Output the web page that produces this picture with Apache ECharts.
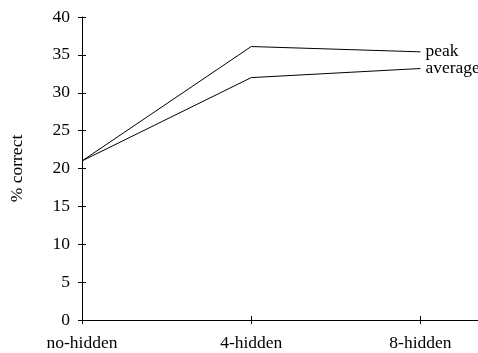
<!DOCTYPE html>
<html>
<head>
<meta charset="utf-8">
<script src="https://cdn.jsdelivr.net/npm/echarts@6/dist/echarts.min.js"></script>
<style>
  html, body { margin: 0; padding: 0; background: #fff; }
  #chart { width: 478px; height: 353px; }
</style>
</head>
<body>
<div id="chart"></div>
<script>
// Network configurations along the x axis
const categories = ['no-hidden', '4-hidden', '8-hidden'];
// Percentage correct for each configuration
const peakValues = [21, 36.1, 35.4];
const averageValues = [21, 32.0, 33.2];
// Y axis tick values
const yTicks = [0, 5, 10, 15, 20, 25, 30, 35, 40];

const FONT = "'Liberation Serif', 'Times New Roman', serif";
const FS = 17.5;
const tickIdx = categories.map((_, i) => i);

function pairs(values) {
  return values.map((v, i) => [i, v]);
}

const chart = echarts.init(document.getElementById('chart'), null, { renderer: 'canvas' });

const lineSeries = (name, values) => ({
  name: name,
  type: 'line',
  data: pairs(values),
  symbol: 'none',
  lineStyle: { color: '#000', width: 1 },
  endLabel: {
    show: true,
    formatter: name,
    distance: 5,
    color: '#000',
    fontFamily: FONT,
    fontSize: FS
  },
  animation: false
});

chart.setOption({
  animation: false,
  grid: { left: 80, right: 0, top: 17, bottom: 33 },
  xAxis: [{
    type: 'value',
    min: 0,
    max: 2.34,
    interval: 1,
    splitLine: { show: false },
    axisLine: { lineStyle: { color: '#000', width: 1 } },
    axisTick: { show: true, customValues: tickIdx, length: 4, inside: false, lineStyle: { color: '#000' } },
    axisLabel: {
      customValues: tickIdx,
      formatter: v => categories[Math.round(v)] || '',
      color: '#000', fontFamily: FONT, fontSize: FS, margin: 14
    }
  }, {
    type: 'value',
    position: 'bottom',
    min: 0,
    max: 2.34,
    interval: 1,
    splitLine: { show: false },
    axisLine: { show: false },
    axisTick: { show: true, customValues: tickIdx, length: 4, inside: true, lineStyle: { color: '#000' } },
    axisLabel: { show: false }
  }],
  yAxis: [{
    type: 'value',
    min: 0,
    max: 40,
    interval: 5,
    name: '% correct',
    nameLocation: 'middle',
    nameGap: 56,
    nameTextStyle: { color: '#000', fontFamily: FONT, fontSize: FS },
    splitLine: { show: false },
    axisLine: { show: true, lineStyle: { color: '#000', width: 1 } },
    axisTick: { show: true, length: 4, lineStyle: { color: '#000' } },
    axisLabel: { color: '#000', fontFamily: FONT, fontSize: FS, margin: 12,
      formatter: v => yTicks.includes(v) ? String(v) : '' }
  }, {
    type: 'value',
    position: 'left',
    min: 0,
    max: 40,
    interval: 5,
    splitLine: { show: false },
    axisLine: { show: false },
    axisTick: { show: true, inside: true, length: 4, lineStyle: { color: '#000' } },
    axisLabel: { show: false }
  }],
  series: [
    lineSeries('peak', peakValues),
    lineSeries('average', averageValues)
  ]
});
</script>
</body>
</html>
